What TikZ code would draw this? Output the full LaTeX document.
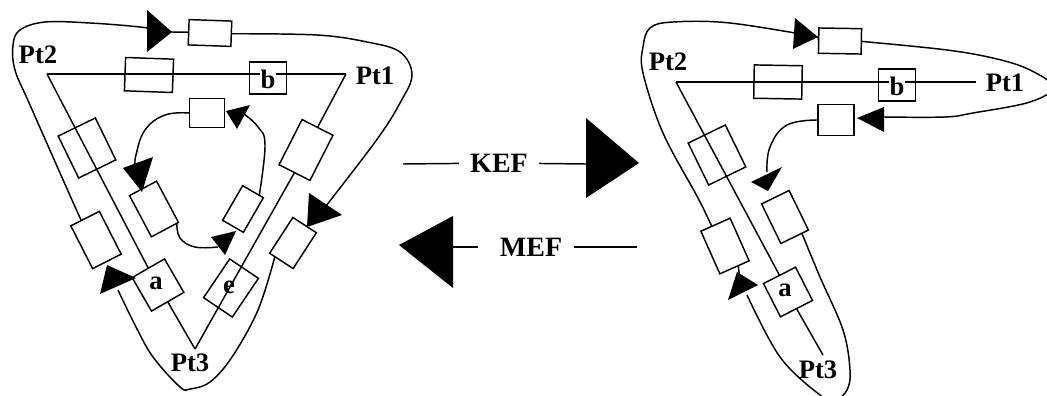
\documentclass[tikz,border=0pt]{standalone}
\usepackage{fontspec}
\setmainfont{Liberation Serif}

\begin{document}
\begin{tikzpicture}[x=0.75pt,y=-0.75pt,line width=1.1pt]
	\tikzstyle{part}=[draw,inner sep=0,outer sep=0,minimum width=#1];
	\tikzstyle{tag}=[inner sep=0.5pt,font=\fontsize{20}{24}\selectfont\bfseries];
	\tikzstyle{verb}=[inner sep=0,inner xsep=8pt,font=\fontsize{21}{24}\selectfont\bfseries];
	\tikzstyle{head}=[fill=black,draw=none];
	\useasboundingbox (0,0) rectangle (1047,396);
	%% left corners
	\coordinate (L1) at (346,74);
	\coordinate (L2) at (47,74);
	\coordinate (L3) at (195,349);
	\node[tag] (lpt1) at (375,76) {Pt1};
	\node[tag] (lpt2) at (38,55) {Pt2};
	\node[tag] (lpt3) at (190,363) {Pt3};
	%% left boxes
	\node[part=32pt,minimum height=19pt,rotate=-2]  (ltop) at (210,33) {};
	\node[part=36pt,minimum height=25pt,rotate=-2]  (lbar) at (149,75) {};
	\node[part=28pt,minimum height=24pt]            (lb) at (268,78) {};
	\node[part=26pt,minimum height=22pt]            (lin) at (207,113) {};
	\node[part=31pt,minimum height=35pt,rotate=26]  (lup) at (87,148) {};
	\node[part=24pt,minimum height=36pt,rotate=27]  (llow) at (96,240) {};
	\node[part=23pt,minimum height=35pt,rotate=28]  (linl) at (154,209) {};
	\node[part=28pt,minimum height=29pt,rotate=30]  (la) at (158,285) {};
	\node[part=26pt,minimum height=38pt,rotate=-27] (lrup) at (306,150) {};
	\node[part=18pt,minimum height=30pt,rotate=-30] (linr) at (243,209) {};
	\node[part=26pt,minimum height=35pt,rotate=-34] (le) at (231,288) {};
	\node[part=21pt,minimum height=32pt,rotate=-33] (lrlow) at (293,243) {};
	%% left wires
	\draw (L2) -- (L1);
	\draw (L2) -- (la.north);
	\draw (la.south) -- (L3);
	\draw (L1) -- (lrup.north);
	\draw (lrup.south) -- (L3);
	\coordinate (lheadtop) at (172,32);
	\coordinate (lheadright) at (325,207);
	\coordinate (lheadlow) at (118,290);
	\coordinate (lheadin) at (135,168);
	\coordinate (lheadbot) at (218,247);
	\coordinate (lheadup) at (244,114);
	\draw (lheadtop) -- (ltop.west);
	\draw plot[smooth,tension=0.6] coordinates {(ltop.east) (317,35) (367,42) (400,52) (412,75) (400,103) (378,138) (333,197) (lheadright)};
	\draw plot[smooth,tension=0.6] coordinates {(lrlow.-110) (258,310) (232,357) (210,382) (190,389) (180,387) (153,357) (135,325) (lheadlow)};
	\draw plot[smooth,tension=0.6] coordinates {(llow.100) (72,200) (30,105) (15,70) (13,45) (20,30) (45,22) (90,23) (140,27) (lheadtop)};
	\draw plot[smooth,tension=0.7] coordinates {(lin.west) (165,115) (145,130) (136,155) (lheadin)};
	\draw plot[smooth,tension=0.7] coordinates {(linl.-60) (180,238) (195,247) (lheadbot)};
	\draw plot[smooth,tension=0.7] coordinates {(linr.70) (265,145) (258,127) (lheadup)};
	%% left heads
	\fill[head] (147,10) -- (172,32) -- (147,52) -- cycle;
	\fill[head] (309,193) -- (342,215) -- (307,227) -- cycle;
	\fill[head] (107,265) -- (136,278) -- (100,294) -- cycle;
	\fill[head] (123,168) -- (153,157) -- (142,192) -- cycle;
	\fill[head] (211,237) -- (236,231) -- (225,255) -- cycle;
	\fill[head] (226,111) -- (250,105) -- (237,129) -- cycle;
	%% left letters
	\node[tag,fill=white] (ltagb) at (268,79) {b};
	\node[tag] (ltaga) at (156,283) {a};
	\node[tag] (ltage) at (229,287) {e};
	%% middle
	\coordinate (keftail) at (403,164);
	\coordinate (kefhead) at (586,164);
	\coordinate (mefhead) at (453,247);
	\coordinate (meftail) at (637,247);
	\node[verb] (kef) at (499,163) {KEF};
	\node[verb] (mef) at (531,247) {MEF};
	\draw (keftail) -- (kef);
	\draw (kef) -- (kefhead);
	\draw[shorten <=8pt] (mef) -- (mefhead);
	\draw (mef) -- (meftail);
	\fill[head] (586,118) -- (639,163) -- (586,198) -- cycle;
	\fill[head] (453,216) -- (399,245) -- (453,288) -- cycle;
	%% right corners
	\coordinate (R1) at (976,82);
	\coordinate (R2) at (676,82);
	\coordinate (R3) at (823,355);
	\node[tag] (rpt1) at (1005,83) {Pt1};
	\node[tag] (rpt2) at (668,62) {Pt2};
	\node[tag] (rpt3) at (818,370) {Pt3};
	%% right boxes
	\node[part=32pt,minimum height=19pt,rotate=-1] (rtop) at (840,41) {};
	\node[part=36pt,minimum height=25pt,rotate=-1] (rbar) at (778,82) {};
	\node[part=28pt,minimum height=24pt]           (rb) at (897,85) {};
	\node[part=27pt,minimum height=23pt]           (rin) at (836,120) {};
	\node[part=31pt,minimum height=35pt,rotate=26] (rup) at (717,155) {};
	\node[part=24pt,minimum height=35pt,rotate=24] (rlow) at (725,246) {};
	\node[part=23pt,minimum height=33pt,rotate=26] (rinl) at (785,217) {};
	\node[part=27pt,minimum height=28pt,rotate=27] (ra) at (788,292) {};
	%% right wires
	\draw (R2) -- (R1);
	\draw (R2) -- (ra.north);
	\draw (ra.south) -- (R3);
	\coordinate (rheadtop) at (818,37);
	\coordinate (rheadin) at (884,117);
	\coordinate (rheadlow) at (747,295);
	\coordinate (rheadleft) at (767,172);
	\coordinate (rheadup) at (740,280);
	\draw (rheadtop) -- (rtop.west);
	\draw (rlow.-80) -- (rheadup);
	\draw plot[smooth,tension=0.6] coordinates {(rtop.east) (947,50) (997,59) (1030,70) (1053,87) (1030,102) (973,113) (945,117) (rheadin)};
	\draw plot[smooth,tension=0.6] coordinates {(rinl.-70) (820,277) (843,330) (850,370) (847,390) (835,400) (820,395) (780,357) (rheadlow)};
	\draw plot[smooth,tension=0.6] coordinates {(rlow.100) (698,198) (663,133) (643,73) (643,47) (650,28) (673,22) (730,23) (rheadtop)};
	\draw plot[smooth,tension=0.7] coordinates {(rin.west) (787,125) (770,147) (rheadleft)};
	%% right heads
	\fill[head] (795,18) -- (818,37) -- (793,49) -- cycle;
	\fill[head] (884,107) -- (857,118) -- (884,132) -- cycle;
	\fill[head] (737,272) -- (758,285) -- (728,300) -- cycle;
	\fill[head] (751,182) -- (782,167) -- (768,191) -- cycle;
	%% right letters
	\node[tag,fill=white] (rtagb) at (897,86) {b};
	\node[tag] (rtaga) at (785,290) {a};
\end{tikzpicture}
\end{document}
